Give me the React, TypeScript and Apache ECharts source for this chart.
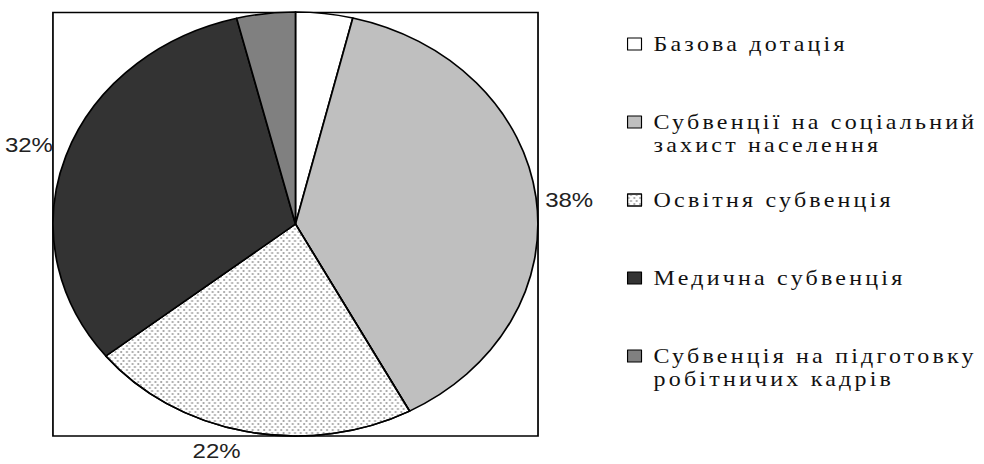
import React, { useEffect, useRef } from "react";
import * as echarts from "echarts";

// ---- data ----
const categories = [
  "Базова дотація",
  "Субвенції на соціальний захист населення",
  "Освітня субвенція",
  "Медична субвенція",
  "Субвенція на підготовку робітничих кадрів",
];
const legendLines = [
  ["Базова дотація"],
  ["Субвенції на соціальний", "захист населення"],
  ["Освітня субвенція"],
  ["Медична субвенція"],
  ["Субвенція на підготовку", "робітничих кадрів"],
];
const shares = [3.8, 38.4, 22.1, 31.8, 3.9];
const showPercent = [false, true, true, true, false];

// ---- styles ----
const sliceColors = ["#ffffff", "#bfbfbf", "#ffffff", "#333333", "#808080"];
const labelPaddings = [
  [0, 0, 0, 0],
  [5, 0, 0, 3],
  [39, 0, 0, 0],
  [0, 6.3, 22, 0],
  [0, 0, 0, 0],
];
const dotted = {
  symbol: "rect",
  symbolSize: 0.8,
  color: "#8c8c8c",
  dashArrayX: [
    [1.5, 2.5],
    [0, 2, 1.5, 0.5],
  ],
  dashArrayY: [1.5, 0.5],
  rotation: 0,
};

const SX = 1.1435;
const W = 984;
const H = 464;
const SERIF = "'Liberation Serif', 'Times New Roman', serif";
const SANS = "'Liberation Sans', Arial, sans-serif";

const css = `.pie-chart text[style*="Liberation Serif"]{letter-spacing:2.8px;}`;

function buildOption() {
  const data = categories.map((name, i) => ({
    name,
    value: shares[i],
    itemStyle: {
      color: sliceColors[i],
      ...(i === 2 ? { decal: dotted } : {}),
    },
    label: { show: showPercent[i], padding: labelPaddings[i] },
  }));
  return {
    animation: false,
    graphic: [
      {
        type: "rect",
        z: 0,
        silent: true,
        shape: { x: 46.3, y: 12.5, width: 424.2, height: 423.5 },
        style: { fill: "none", stroke: "#000", lineWidth: 1.5 },
      },
    ],
    legend: {
      orient: "vertical",
      left: 548.3,
      top: 9.5,
      padding: 0,
      itemGap: 9,
      itemWidth: 12.2,
      itemHeight: 12,
      icon: "rect",
      selectedMode: false,
      itemStyle: { borderColor: "#000", borderWidth: 1 },
      textStyle: {
        fontFamily: SERIF,
        fontSize: 21,
        color: "#111",
        lineHeight: 23,
        backgroundColor: "rgba(0,0,0,0)",
        rich: {
          t: { fontFamily: SERIF, fontSize: 21, color: "#111", lineHeight: 23 },
        },
      },
      formatter: (n: string) =>
        legendLines[categories.indexOf(n)].map((l) => `{t|${l}}`).join("\n"),
      data: categories.map((name, i) => ({
        name,
        textStyle: {
          padding: legendLines[i].length > 1 ? [23, 0, 0, 5.5] : [23, 0, 23, 5.5],
        },
      })),
    },
    series: [
      {
        type: "pie",
        center: [258.4, 224],
        radius: 212,
        startAngle: 90,
        clockwise: true,
        avoidLabelOverlap: false,
        silent: true,
        z: 2,
        emphasis: { disabled: true },
        itemStyle: { borderColor: "#000", borderWidth: 1.5 },
        label: {
          position: "outside",
          fontFamily: SANS,
          fontSize: 21,
          color: "#222",
          rich: { p: { fontFamily: SANS, fontSize: 21, color: "#222" } },
          formatter: (p: any) => `{p|${Math.round(p.percent)}%}`,
        },
        labelLine: { show: false, length: 0, length2: 0 },
        data,
      },
    ],
  };
}

export default function App() {
  const ref = useRef<HTMLDivElement>(null);
  useEffect(() => {
    const chart = echarts.init(ref.current!, null, { renderer: "svg" });
    chart.setOption(buildOption() as any);
    return () => chart.dispose();
  }, []);
  return (
    <div
      style={{
        position: "absolute",
        left: 0,
        top: 0,
        width: W,
        height: H,
        overflow: "hidden",
        background: "#fff",
      }}
    >
      <style>{css}</style>
      <div
        ref={ref}
        className="pie-chart"
        style={{
          width: W / SX,
          height: H,
          transform: `scaleX(${SX})`,
          transformOrigin: "0 0",
        }}
      />
    </div>
  );
}
